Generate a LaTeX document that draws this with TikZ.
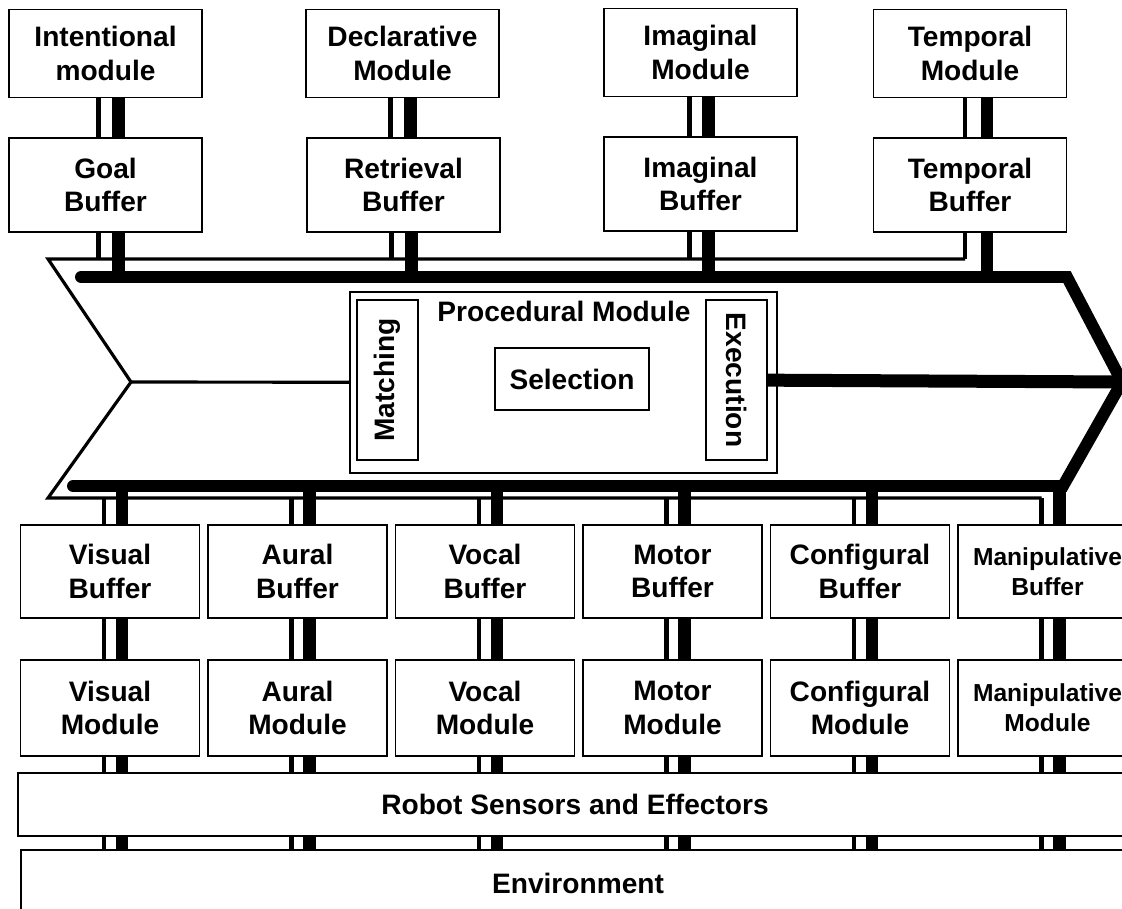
\documentclass[tikz,border=0pt]{standalone}
\usepackage{fontspec}
\setmainfont{Liberation Sans}
\usepackage{tikz}
\usetikzlibrary{calc}

\newcommand\acrfont{\fontsize{16}{19}\selectfont\bfseries}
\newcommand\acrsmall{\fontsize{14}{17}\selectfont\bfseries}

\begin{document}
\begin{tikzpicture}[
  x=0.02cm, y=-0.02cm,
  font=\acrfont,
  box/.style={rectangle,draw=black,fill=white,line width=0.9pt,
    align=center,inner sep=0pt},
  topmod/.style={box,minimum width=3.86cm,minimum height=1.76cm},
  topbuf/.style={box,minimum width=3.86cm,minimum height=1.88cm},
  botbuf/.style={box,minimum width=3.58cm,minimum height=1.86cm},
  botmod/.style={box,minimum width=3.58cm,minimum height=1.92cm},
  wide/.style={box,minimum width=22.28cm},
  stage/.style={box,line width=0.7pt,minimum width=3.2cm,minimum height=1.22cm},
  thinlink/.style={line width=2.6pt},
  thicklink/.style={line width=7.1pt},
  bus/.style={line width=6.8pt,line cap=round,line join=miter},
  rim/.style={line width=1.8pt,line join=miter}
]
  \useasboundingbox (0,0) rectangle (1122,909);
  \clip (0,0) rectangle (1122,909);

  % top modules and buffers
  \node[topmod] (im) at (105.5,53.5) {Intentional\\module};
  \node[topbuf] (gb) at (105.5,185) {Goal\\Buffer};
  \node[topmod] (dm) at (402.5,53.5) {Declarative\\Module};
  \node[topbuf] (rb) at (403.5,185) {Retrieval\\Buffer};
  \node[topmod] (igm) at (700.5,52.5) {Imaginal\\Module};
  \node[topbuf] (igb) at (700.5,184) {Imaginal\\Buffer};
  \node[topmod] (tm) at (970,53.5) {Temporal\\Module};
  \node[topbuf] (tb) at (970,185) {Temporal\\Buffer};

  % procedural module
  \coordinate (notch) at (131,382);
  \coordinate (tip) at (1122,382);
  \coordinate (topline) at (48,259);
  \coordinate (botline) at (48,498);
  \coordinate (bustop) at (0,277);
  \coordinate (busbot) at (0,486);
  \node[box,minimum width=8.54cm,minimum height=3.62cm] (pm) at (563.5,382.5) {};
  \node (pmt) at (564,311) {Procedural Module};
  \node[stage,rotate=90] (mt) at (387.5,380) {Matching};
  \node[stage,rotate=-90] (ex) at (736.5,380) {Execution};
  \node[box,minimum width=3.08cm,minimum height=1.24cm] (sel) at (572,379) {Selection};

  % bottom buffers and modules
  \node[botbuf] (vb) at (110,571.5) {Visual\\Buffer};
  \node[botbuf] (ab) at (297.5,571.5) {Aural\\Buffer};
  \node[botbuf] (ocb) at (485,571.5) {Vocal\\Buffer};
  \node[botbuf] (mb) at (672.5,571.5) {Motor\\Buffer};
  \node[botbuf] (cb) at (860,571.5) {Configural\\Buffer};
  \node[botbuf,font=\acrsmall] (mpb) at (1047.5,571.5) {Manipulative\\Buffer};
  \node[botmod] (vm) at (110,708) {Visual\\Module};
  \node[botmod] (am) at (297.5,708) {Aural\\Module};
  \node[botmod] (ocm) at (485,708) {Vocal\\Module};
  \node[botmod] (mm) at (672.5,708) {Motor\\Module};
  \node[botmod] (cm) at (860,708) {Configural\\Module};
  \node[botmod,font=\acrsmall] (mpm) at (1047.5,708) {Manipulative\\Module};

  \node[wide,minimum height=1.26cm] (rse) at (575,804.5) {Robot Sensors and Effectors};
  \node[wide,minimum height=1.32cm] (env) at (578,883) {Environment};

  % arrow body
  \draw[bus] (81,277) -- (1067,277) -- (tip) -- (1063,486) -- (73,486);
  \path ($(mpb.north)+(-6,0)$) coordinate (m1);
  \draw[rim] (965,259) -- (topline) -- (notch) -- (botline) -- (botline -| m1);
  \draw[rim] (notch) -- (pm);
  \draw[line width=7.4pt] (ex) -- (tip);

  % top links
  \foreach \m/\b/\l/\r in {im/gb/-7/13, dm/rb/-12/8, igm/igb/-11/8, tm/tb/-5/17} {
    \draw[thinlink] ($(\m.south)+(\l,0)$) coordinate (p) -- (p |- \b.north);
    \draw[thicklink] ($(\m.south)+(\r,0)$) coordinate (p) -- (p |- \b.north);
    \draw[thinlink] ($(\b.south)+(\l,0)$) coordinate (p) -- (p |- topline);
    \draw[thicklink] ($(\b.south)+(\r,0)$) coordinate (p) -- (p |- bustop);
  }

  % bottom links
  \foreach \b/\m in {vb/vm, ab/am, ocb/ocm, mb/mm, cb/cm, mpb/mpm} {
    \draw[thinlink] ($(\b.north)+(-6,0)$) coordinate (p) -- (p |- botline);
    \draw[thicklink] ($(\b.north)+(12,0)$) coordinate (p) -- (p |- busbot);
    \draw[thinlink] ($(\b.south)+(-6,0)$) coordinate (p) -- (p |- \m.north);
    \draw[thicklink] ($(\b.south)+(12,0)$) coordinate (p) -- (p |- \m.north);
    \path ($(\m.south)+(-6,0)$) coordinate (p) ($(\m.south)+(12,0)$) coordinate (q);
    \draw[thinlink] (p) -- (p |- rse.north) (p |- rse.south) -- (p |- env.north);
    \draw[thicklink] (q) -- (q |- rse.north) (q |- rse.south) -- (q |- env.north);
  }
\end{tikzpicture}
\end{document}
